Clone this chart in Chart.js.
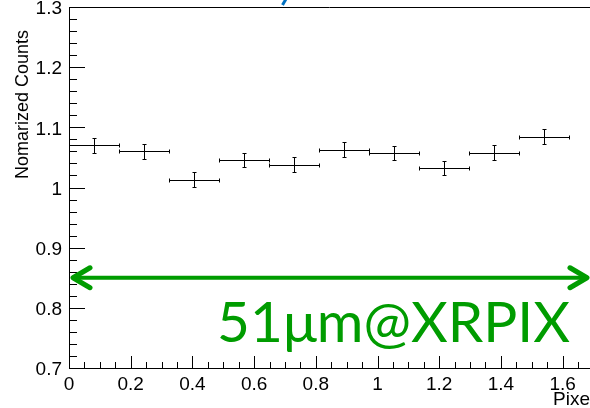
<!DOCTYPE html>
<html>
<head>
<meta charset="utf-8">
<script src="https://cdn.jsdelivr.net/npm/chart.js@4/dist/chart.umd.min.js"></script>
<style>
  html, body { margin: 0; padding: 0; background: #fff; overflow: hidden; }
  #wrap { width: 590px; height: 408px; }
</style>
</head>
<body>
<div id="wrap"><canvas id="counts-chart" width="590" height="408"></canvas></div>
<script>
// Normalised counts per bin, with statistical errors
const binCenters = [0.081, 0.243, 0.405, 0.567, 0.729, 0.891, 1.053, 1.215, 1.377, 1.539];
const binHalfWidth = 0.081;
const counts = [1.0705, 1.060, 1.013, 1.046, 1.038, 1.063, 1.057, 1.032, 1.058, 1.084];
const countErrors = [0.0125, 0.012, 0.0125, 0.012, 0.012, 0.012, 0.012, 0.012, 0.012, 0.0125];

// Axis labels
const xTickValues = [0, 0.2, 0.4, 0.6, 0.8, 1.0, 1.2, 1.4, 1.6];
const xTickLabels = ["0", "0.2", "0.4", "0.6", "0.8", "1", "1.2", "1.4", "1.6"];
const yTickValues = [0.7, 0.8, 0.9, 1.0, 1.1, 1.2, 1.3];
const yTickLabels = ["0.7", "0.8", "0.9", "1", "1.1", "1.2", "1.3"];

// Pixel-size marker: arrow across the pad plus its label
const arrowY = 0.85;
const arrowFrom = 0.013;
const arrowTo = 1.679;
const pixelText = "51\u03bcm@XRPIX";

const GREEN = "#009c00";
const AXIS_FONT = "'Liberation Sans', Arial, sans-serif";

// draws ROOT style frame, inward ticks, error bars and annotations
const rootStyle = {
    id: "rootStyle",
    afterDatasetsDraw(chart) {
        const ctx = chart.ctx;
        const xs = chart.scales.x;
        const ys = chart.scales.y;
        const area = chart.chartArea;
        const px = v => Math.round(v) + 0.5;

        ctx.save();
        ctx.strokeStyle = "#000";
        ctx.lineWidth = 1;

        // top frame line
        ctx.beginPath();
        ctx.moveTo(area.left, px(area.top));
        ctx.lineTo(area.right, px(area.top));
        ctx.stroke();

        // y ticks, 0.1 primary / 0.02 secondary
        ctx.beginPath();
        for (let k = 0; k <= 30; k++) {
            const y = px(ys.getPixelForValue(0.7 + k * 0.02));
            const len = k % 5 === 0 ? 16 : 8;
            ctx.moveTo(area.left, y);
            ctx.lineTo(area.left + len, y);
        }
        // x ticks, 0.2 primary / 0.05 secondary
        for (let k = 0; k * 0.05 <= xs.max; k++) {
            const x = px(xs.getPixelForValue(k * 0.05));
            const len = k % 4 === 0 ? 12 : 6;
            ctx.moveTo(x, area.bottom);
            ctx.lineTo(x, area.bottom - len);
        }
        ctx.stroke();

        // error bars
        ctx.beginPath();
        counts.forEach((c, i) => {
            const xc = px(xs.getPixelForValue(binCenters[i]));
            const x0 = px(xs.getPixelForValue(binCenters[i] - binHalfWidth));
            const x1 = px(xs.getPixelForValue(binCenters[i] + binHalfWidth));
            const y = px(ys.getPixelForValue(c));
            const yTop = px(ys.getPixelForValue(c + countErrors[i]));
            const yBot = px(ys.getPixelForValue(c - countErrors[i]));
            ctx.moveTo(x0, y); ctx.lineTo(x1, y);
            ctx.moveTo(xc, yTop); ctx.lineTo(xc, yBot);
            ctx.moveTo(x0, y - 2); ctx.lineTo(x0, y + 2);
            ctx.moveTo(x1, y - 2); ctx.lineTo(x1, y + 2);
            ctx.moveTo(xc - 2, yTop); ctx.lineTo(xc + 2, yTop);
            ctx.moveTo(xc - 2, yBot); ctx.lineTo(xc + 2, yBot);
        });
        ctx.stroke();

        // double-headed arrow
        const ay = ys.getPixelForValue(arrowY);
        const ax0 = xs.getPixelForValue(arrowFrom);
        const ax1 = xs.getPixelForValue(arrowTo);
        ctx.strokeStyle = GREEN;
        ctx.lineWidth = 4;
        ctx.lineCap = "round";
        ctx.lineJoin = "round";
        ctx.beginPath();
        ctx.moveTo(ax0 + 2, ay); ctx.lineTo(ax1 - 2, ay);
        ctx.stroke();
        ctx.lineWidth = 5;
        ctx.beginPath();
        ctx.moveTo(ax0 + 17, ay - 10); ctx.lineTo(ax0, ay); ctx.lineTo(ax0 + 17, ay + 10);
        ctx.moveTo(ax1 - 17, ay - 10); ctx.lineTo(ax1, ay); ctx.lineTo(ax1 - 17, ay + 10);
        ctx.stroke();

        // pixel-size label, spanning x=0.48..1.624, baseline at 0.743
        ctx.fillStyle = GREEN;
        ctx.font = "56px Lato, 'Open Sans', sans-serif";
        ctx.textBaseline = "alphabetic";
        ctx.textAlign = "left";
        const tw = ctx.measureText(pixelText).width;
        const right = xs.getPixelForValue(1.624);
        const left = xs.getPixelForValue(0.48);
        ctx.save();
        ctx.translate(left, ys.getPixelForValue(0.743));
        ctx.scale((right - left) / tw, 1);
        ctx.fillText(pixelText, 0, 0);
        ctx.restore();

        // axis titles
        ctx.fillStyle = "#000";
        ctx.font = "18px " + AXIS_FONT;
        ctx.save();
        ctx.translate(28, 30);
        ctx.rotate(-Math.PI / 2);
        ctx.textAlign = "right";
        ctx.fillText("Nomarized Counts", 0, 0);
        ctx.restore();
        ctx.font = "19px " + AXIS_FONT;
        ctx.textAlign = "left";
        ctx.fillText("Pixel", 553, 405);

        // tail of the title above the frame
        ctx.strokeStyle = "#0070c0";
        ctx.lineWidth = 3;
        ctx.lineCap = "butt";
        ctx.beginPath();
        ctx.moveTo(286, -1); ctx.lineTo(282.5, 5);
        ctx.stroke();

        ctx.restore();
    }
};

const ctx = document.getElementById("counts-chart").getContext("2d");
new Chart(ctx, {
    type: "scatter",
    data: {
        datasets: [{
            label: "Normalized counts",
            data: binCenters.map((x, i) => ({ x: x, y: counts[i] })),
            pointRadius: 0,
            showLine: false
        }]
    },
    options: {
        responsive: false,
        animation: false,
        devicePixelRatio: 1,
        layout: { padding: { top: 7, right: 0, left: 0, bottom: 0 } },
        plugins: {
            legend: { display: false },
            tooltip: { enabled: false }
        },
        scales: {
            x: {
                type: "linear",
                min: 0,
                max: 1.6888,
                grid: { display: false, drawTicks: false },
                border: { display: true, color: "#000", width: 1 },
                afterBuildTicks: s => { s.ticks = xTickValues.map(v => ({ value: v })); },
                afterFit: s => { s.height = 40; s.paddingLeft = 0; s.paddingRight = 0; },
                ticks: {
                    color: "#000",
                    font: { family: AXIS_FONT, size: 19 },
                    padding: 5,
                    maxRotation: 0,
                    autoSkip: false,
                    callback: (v, i) => xTickLabels[i]
                }
            },
            y: {
                type: "linear",
                min: 0.7,
                max: 1.3,
                grid: { display: false, drawTicks: false },
                border: { display: true, color: "#000", width: 1 },
                afterBuildTicks: s => { s.ticks = yTickValues.map(v => ({ value: v })); },
                afterFit: s => { s.width = 69; s.paddingTop = 0; s.paddingBottom = 0; },
                ticks: {
                    color: "#000",
                    font: { family: AXIS_FONT, size: 19 },
                    padding: 7,
                    labelOffset: 2,
                    autoSkip: false,
                    callback: (v, i) => yTickLabels[i]
                }
            }
        }
    },
    plugins: [rootStyle]
});
</script>
</body>
</html>
